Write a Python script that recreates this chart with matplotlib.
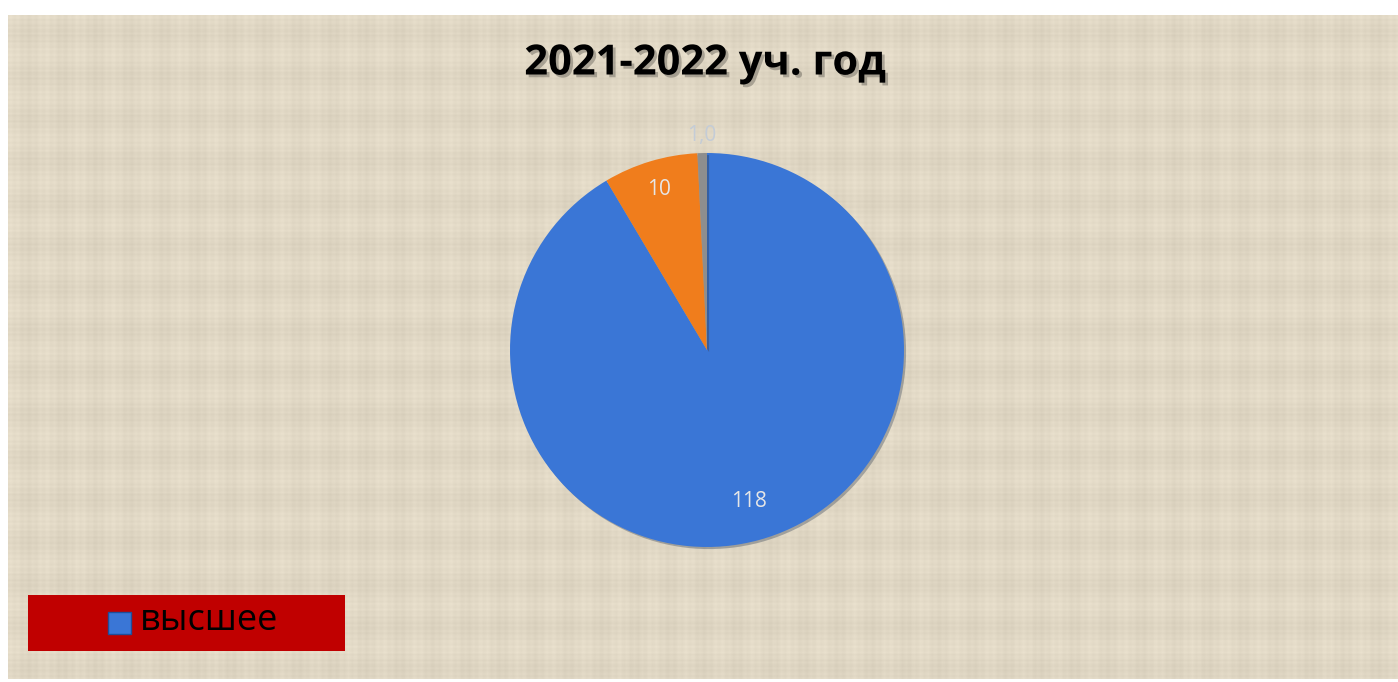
import numpy as np
import matplotlib.pyplot as plt
import matplotlib.patheffects as pe
from matplotlib.patches import Rectangle

# data
categories = ['высшее', 'первая', 'без категории']
values = [118, 10, 1]
value_labels = ['118', '10', '1,0']
colors = ['#3A76D6', '#F07D1C', '#8E8E8E']
title = '2021-2022 уч. год'

W, H = 1398, 682
fig = plt.figure(figsize=(W / 100, H / 100), dpi=100)
fig.patch.set_facecolor('white')

# textured beige background (plaid made from sines, decoration only)
bg = fig.add_axes([8 / W, 3 / H, (W - 8) / W, (H - 18) / H])
xx = np.arange(700)
yy = np.arange(340)
gx = 0.5 + 0.25 * np.sin(xx * 1.7) + 0.25 * np.sin(xx * 0.37 + 1.0)
gy = 0.5 + 0.25 * np.sin(yy * 2.3) + 0.25 * np.sin(yy * 0.29 + 2.0)
tex = 0.55 * gy[:, None] + 0.45 * gx[None, :]
base = np.array([0.880, 0.845, 0.770])
img = base[None, None, :] + (tex[:, :, None] - 0.5) * 0.09
bg.imshow(np.clip(img, 0, 1), aspect='auto', interpolation='bilinear')
bg.axis('off')

# pie
cx, cy, r = 707, 350, 197
ax = fig.add_axes([(cx - r) / W, (H - cy - r) / H, 2 * r / W, 2 * r / H])
wedges, _ = ax.pie(values, colors=colors, startangle=90, counterclock=False,
                   wedgeprops=dict(edgecolor='none'))
for w in wedges:
    w.set_path_effects([pe.withSimplePatchShadow(offset=(1.5, -1.5), alpha=0.3)])
ax.set_xlim(-1, 1)
ax.set_ylim(-1, 1)
ax.axis('off')

# data labels
label_dist = [0.8, 0.85, 1.09]
label_cols = ['#E6E6E6', '#E6E6E6', '#C4CCD6']
total = float(sum(values))
start = 90.0
for i, v in enumerate(values):
    span = v / total * 360
    mid = np.deg2rad(start - span / 2)
    start -= span
    ax.text(label_dist[i] * np.cos(mid), label_dist[i] * np.sin(mid), value_labels[i],
            ha='center', va='center', fontsize=15, color=label_cols[i],
            family='Open Sans')

# title
fig.text(705 / W, 1 - 64 / H, title, ha='center', va='center', fontsize=30,
         fontweight='bold', family='Open Sans',
         path_effects=[pe.withSimplePatchShadow(offset=(2, -2), alpha=0.25)])

# legend box
fig.patches.append(Rectangle((28 / W, 1 - 651 / H), 317 / W, 56 / H,
                             transform=fig.transFigure, facecolor='#C00000',
                             edgecolor='none'))
fig.patches.append(Rectangle((108 / W, 1 - 634 / H), 23 / W, 22 / H,
                             transform=fig.transFigure, facecolor=colors[0],
                             edgecolor='#1F4E9A', linewidth=1))
fig.text(140 / W, 1 - 621 / H, categories[0], ha='left', va='center',
         fontsize=26, family='Open Sans', color='black')

fig.savefig('out.png', dpi=100)
